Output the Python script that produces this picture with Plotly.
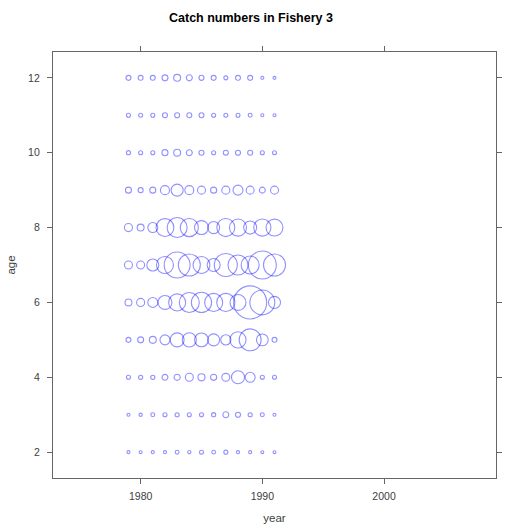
import numpy as np
import plotly.graph_objects as go

# Catch numbers (thousands) by age (rows) and year (columns)
years = [1979, 1980, 1981, 1982, 1983, 1984, 1985, 1986, 1987, 1988, 1989, 1990, 1991]
ages = [2, 3, 4, 5, 6, 7, 8, 9, 10, 11, 12]

catch_age2 = [92, 88, 95, 97, 148, 102, 155, 140, 162, 98, 90, 86, 84]
catch_age3 = [95, 105, 150, 165, 170, 158, 160, 172, 350, 255, 168, 150, 92]
catch_age4 = [160, 170, 175, 350, 380, 640, 500, 370, 630, 1700, 1000, 165, 158]
catch_age5 = [250, 360, 480, 1000, 1950, 2000, 1900, 1450, 1050, 2600, 4800, 1400, 240]
catch_age6 = [480, 650, 1000, 1950, 2900, 4000, 4100, 3250, 3300, 2550, 10900, 6200, 1450]
catch_age7 = [640, 620, 1450, 2900, 6700, 4850, 2850, 1700, 5300, 4000, 3250, 7800, 4850]
catch_age8 = [650, 480, 1000, 3200, 4000, 3300, 1950, 1450, 3250, 2900, 1700, 2950, 2850]
catch_age9 = [360, 250, 360, 820, 1450, 800, 640, 370, 650, 1000, 630, 350, 640]
catch_age10 = [165, 158, 160, 370, 480, 355, 250, 162, 245, 255, 250, 160, 155]
catch_age11 = [160, 155, 158, 250, 255, 248, 245, 160, 155, 158, 150, 92, 88]
catch_age12 = [250, 245, 240, 360, 480, 365, 255, 250, 160, 245, 250, 95, 90]

catch_rows = [catch_age2, catch_age3, catch_age4, catch_age5, catch_age6, catch_age7,
              catch_age8, catch_age9, catch_age10, catch_age11, catch_age12]

xs, ys, vs = [], [], []
for age, row in zip(ages, catch_rows):
    for yr, v in zip(years, row):
        xs.append(yr)
        ys.append(age)
        vs.append(v)

fig = go.Figure()
fig.add_trace(go.Scatter(
    x=xs, y=ys, mode="markers",
    marker=dict(
        symbol="circle-open",
        size=vs,
        sizemode="area",
        sizeref=20,
        sizemin=1,
        color="rgba(0,0,255,0.62)",
        line=dict(width=1.1),
    ),
    hovertemplate="year %{x}<br>age %{y}<br>catch %{marker.size}<extra></extra>",
    showlegend=False,
))

axis_common = dict(
    showline=True, linecolor="#666666", linewidth=1.3, mirror="ticks",
    ticks="outside", ticklen=5, tickcolor="#666666", tickwidth=1,
    showgrid=False, zeroline=False,
    tickfont=dict(family="Liberation Sans, Arial, sans-serif", size=10.5, color="#404040"),
)

fig.update_layout(
    width=506, height=530,
    margin=dict(l=53, r=4, t=52, b=52),
    paper_bgcolor="white", plot_bgcolor="white",
    font=dict(family="Liberation Sans, Arial, sans-serif", color="#404040"),
    title=dict(
        text="<b>Catch numbers in Fishery 3</b>",
        font=dict(size=12.5, color="black"),
        x=0.496, xref="container", xanchor="center",
        y=1 - 18 / 530, yref="container", yanchor="middle",
    ),
    xaxis=dict(
        range=[1972.8, 2009.2], tickvals=[1980, 1990, 2000],
        title=dict(text="year", font=dict(size=11.5, color="#404040"), standoff=13),
        ticklabelstandoff=3,
        **axis_common,
    ),
    yaxis=dict(
        range=[1.31, 12.69], tickvals=[2, 4, 6, 8, 10, 12],
        title=dict(text="age", font=dict(size=11.5, color="#404040"), standoff=10),
        ticklabelstandoff=5,
        **axis_common,
    ),
)

fig.write_html("out.html")
